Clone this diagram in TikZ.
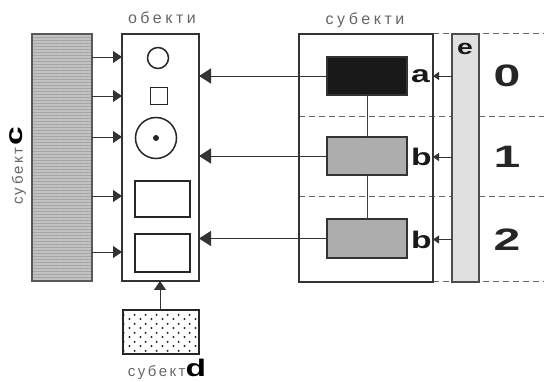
\documentclass[tikz,border=0pt]{standalone}
\usepackage{fontspec}
\usepackage{graphicx}
\setmainfont{Liberation Sans}
\newfontfamily\spcA[LetterSpace=22]{Liberation Sans}
\newfontfamily\spcB[LetterSpace=16]{Liberation Sans}
\usetikzlibrary{arrows.meta,patterns.meta,calc}
\tikzdeclarepattern{
  name=bigdots, type=uncolored,
  bounding box={(0pt,0pt) and (10.6pt,8.6pt)},
  tile size={(10.6pt,8.6pt)},
  code={\fill (2.6pt,2.15pt) circle (1.15pt); \fill (7.9pt,6.45pt) circle (1.15pt);}
}
\newcommand\extl[1]{\scalebox{1.4}[1]{\bfseries #1}}
\newcommand\extn[1]{\scalebox{1.55}[1]{\bfseries #1}}
\tikzset{
  box/.style={draw=black!80, line width=1.1pt, inner sep=0pt, outer sep=0pt},
  grey label/.style={text=black!60, inner sep=0pt},
  letter/.style={font=\fontsize{24}{24}\selectfont, inner sep=0pt, text=black!90},
  number/.style={font=\fontsize{31}{31}\selectfont, inner sep=0pt, text=black!85},
  bigarrow/.style={-{Triangle[length=12pt,width=15pt]}, line width=0.9pt, draw=black!80},
  midarrow/.style={-{Triangle[length=9pt,width=12pt]}, line width=0.9pt, draw=black!80},
  smallarrow/.style={-{Triangle[length=6pt,width=8pt]}, line width=0.9pt, draw=black!80},
  rowline/.style={dashed, dash pattern=on 6pt off 4pt, line width=1pt, draw=black!60},
  link/.style={line width=0.9pt, draw=black!75}
}
\begin{document}
\begin{tikzpicture}[x=1pt,y=-1pt]
\useasboundingbox (0,0) rectangle (544,382);

% dashed row separators
\draw[rowline] (433,34) -- (544,34);
\draw[rowline] (299,117) -- (544,117);
\draw[rowline] (299,197) -- (544,197);
\draw[rowline] (433,282) -- (544,282);

% subject c (grey bar)
\node[box, fill=black!24, draw=black!65, minimum width=60pt, minimum height=247pt, anchor=north west] (c) at (32,34) {};
\fill[pattern={Lines[angle=0,distance=3pt,line width=0.5pt]}, pattern color=black!36] (c.north west) rectangle (c.south east);
\draw[draw=black!65, line width=1.1pt] (c.north west) rectangle (c.south east);

% objects box
\node[box, minimum width=77pt, minimum height=247pt, anchor=north west] (obj) at (122,34) {};
\node[grey label, font=\fontsize{16}{16}\selectfont\spcA] (objl) at (162,18) {обекти};

\node[draw=black!85, line width=1.5pt, circle, minimum size=21pt, inner sep=0pt] (o1) at (158,58) {};
\node[draw=black!85, line width=1.5pt, minimum width=17pt, minimum height=17pt, inner sep=0pt] (o2) at (159,96) {};
\node[draw=black!85, line width=1.5pt, circle, minimum size=41pt, inner sep=0pt] (o3) at (156,138) {};
\node[fill=black!85, circle, minimum size=6pt, inner sep=0pt] (o3d) at (o3.center) {};
\node[draw=black!85, line width=2pt, minimum width=55pt, minimum height=36pt, inner sep=0pt, anchor=north west] (o4) at (134,180) {};
\node[draw=black!85, line width=2pt, minimum width=55pt, minimum height=38pt, inner sep=0pt, anchor=north west] (o5) at (134,233) {};

% arrows from c to objects
\foreach \yy in {57,96,137,196,252}{
  \draw[midarrow] (c.east |- 0,\yy) -- (obj.west |- 0,\yy);
}

% subjects box
\node[box, minimum width=134pt, minimum height=248pt, anchor=north west] (sub) at (299,34) {};
\node[grey label, font=\fontsize{16}{16}\selectfont\spcA] (subl) at (365,20) {субекти};

\node[box, fill=black!90, minimum width=80pt, minimum height=38pt, anchor=north west] (a) at (327,57) {};
\node[box, fill=black!32, minimum width=80pt, minimum height=38pt, anchor=north west] (b1) at (327,137) {};
\node[box, fill=black!32, minimum width=80pt, minimum height=39pt, anchor=north west] (b2) at (327,219) {};
\draw[link] (a.south) -- (b1.north);
\draw[link] (b1.south) -- (b2.north);

\node[letter, anchor=west] (al) at ([xshift=4pt]a.east) {\extl{a}};
\node[letter, anchor=west] (bl1) at ([xshift=4pt,yshift=-1pt]b1.east) {\extl{b}};
\node[letter, anchor=west] (bl2) at ([xshift=4pt,yshift=-1pt]b2.east) {\extl{b}};

% long arrows to objects
\draw[bigarrow] (a.west) -- (a.west -| obj.east);
\draw[bigarrow] (b1.west) -- (b1.west -| obj.east);
\draw[bigarrow] (b2.west) -- (b2.west -| obj.east);

% e bar
\node[box, fill=black!12, draw=black!70, minimum width=27pt, minimum height=248pt, anchor=north west] (e) at (452,34) {};
\node[letter] (el) at (465,49) {\scalebox{1.35}[1]{\bfseries\fontsize{21}{21}\selectfont e}};
\draw[smallarrow] (e.west |- a) -- (sub.east |- a);
\draw[smallarrow] (e.west |- bl1) -- (sub.east |- bl1);
\draw[smallarrow] (e.west |- bl2) -- (sub.east |- bl2);

% numbers
\node[number] (n0) at (507,76) {\extn{0}};
\node[number] (n1) at (507,157) {\extn{1}};
\node[number] (n2) at (507,240) {\extn{2}};

% subject d
\node[box, draw=black!85, minimum width=76pt, minimum height=44pt, anchor=north west, pattern=bigdots, pattern color=black!85] (d) at (123,310) {};
\draw[midarrow] (d.north -| 160,0) -- (obj.south -| 160,0);
\node[anchor=base, inner sep=0pt] (dl) at (167,377) {{\fontsize{15}{15}\selectfont\spcB\color{black!60}субект}\fontsize{24}{24}\selectfont\extl{d}};

% subject c label
\node[rotate=90, anchor=base, inner sep=0pt] (cl) at (23,166) {{\fontsize{15}{15}\selectfont\spcB\color{black!60}субект}\,\fontsize{24}{24}\selectfont\extl{c}};
\end{tikzpicture}
\end{document}
